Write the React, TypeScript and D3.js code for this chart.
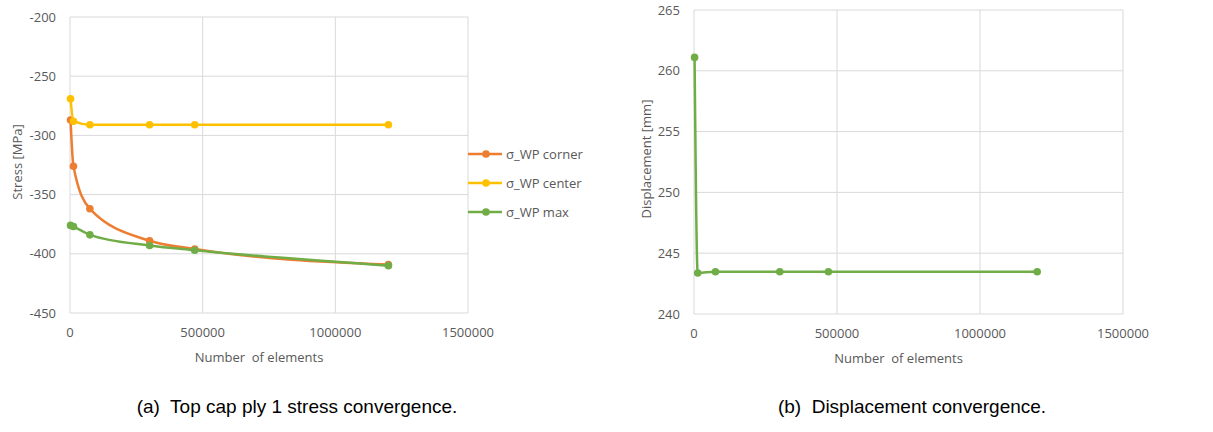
import React, { useEffect, useRef } from 'react';
import * as d3 from 'd3';

// mesh sizes shared by both studies
const elements = [2000, 13000, 75000, 300000, 470000, 1200000];

const wpCorner = [-287, -326, -362, -389, -396, -409];
const wpCenter = [-269, -288, -291, -291, -291, -291];
const wpMax = [-376, -377, -384, -393, -397, -410];
const displacement = [261.1, 243.37, 243.48, 243.48, 243.48, 243.48];

const xTicks = [0, 500000, 1000000, 1500000];
const stressTicks = [-450, -400, -350, -300, -250, -200];
const dispTicks = [240, 245, 250, 255, 260, 265];

const seriesNames = ['σ_WP corner', 'σ_WP center', 'σ_WP max'];
const captions = ['(a)  Top cap ply 1 stress convergence.', '(b)  Displacement convergence.'];

const colors = ['#ED7D31', '#FFC000', '#70AD47'];
const font = "'Open Sans', sans-serif";
const textColor = '#595959';
const gridColor = '#D9D9D9';

type Series = { name: string; values: number[]; color: string };

function drawPanel(svg, cfg) {
  const { left, right, top, bottom, yDomain, yTicks, yTitle, titleX, series, caption, captionX } = cfg;

  const x = d3.scaleLinear().domain([0, 1500000]).range([left, right]);
  const y = d3.scaleLinear().domain(yDomain).range([bottom, top]);

  const g = svg.append('g');

  // gridlines
  g.append('g')
    .selectAll('line')
    .data(yTicks)
    .join('line')
      .attr('x1', left)
      .attr('x2', right)
      .attr('y1', d => y(d))
      .attr('y2', d => y(d))
      .attr('stroke', gridColor)
      .attr('stroke-width', 1);

  g.append('g')
    .selectAll('line')
    .data(xTicks)
    .join('line')
      .attr('x1', d => x(d))
      .attr('x2', d => x(d))
      .attr('y1', top)
      .attr('y2', bottom)
      .attr('stroke', gridColor)
      .attr('stroke-width', 1);

  // tick labels
  g.append('g')
    .selectAll('text')
    .data(yTicks)
    .join('text')
      .attr('x', left - 14)
      .attr('y', d => y(d))
      .attr('dy', '0.35em')
      .attr('text-anchor', 'end')
      .attr('font-family', font)
      .attr('font-size', 13)
      .attr('fill', textColor)
      .text(d => String(d));

  g.append('g')
    .selectAll('text')
    .data(xTicks)
    .join('text')
      .attr('x', d => x(d))
      .attr('y', bottom + 19)
      .attr('dy', '0.35em')
      .attr('text-anchor', 'middle')
      .attr('font-family', font)
      .attr('font-size', 13)
      .attr('fill', textColor)
      .text(d => String(d));

  // axis titles
  g.append('text')
    .attr('x', (left + right) / 2 - 10)
    .attr('y', bottom + 44)
    .attr('dy', '0.35em')
    .attr('text-anchor', 'middle')
    .attr('font-family', font)
    .attr('font-size', 13)
    .attr('fill', textColor)
    .style('white-space', 'pre')
    .text('Number  of elements');

  g.append('text')
    .attr('transform', `translate(${titleX},${(top + bottom) / 2 - 3}) rotate(-90)`)
    .attr('dy', '0.35em')
    .attr('text-anchor', 'middle')
    .attr('font-family', font)
    .attr('font-size', 13)
    .attr('fill', textColor)
    .text(yTitle);

  // series
  const line = d3.line<number>()
    .x((_, i) => x(elements[i]))
    .y(d => y(d))
    .curve(d3.curveMonotoneX);

  series.forEach((s: Series) => {
    g.append('path')
      .datum(s.values)
      .attr('d', line)
      .attr('fill', 'none')
      .attr('stroke', s.color)
      .attr('stroke-width', 2.5);

    g.append('g')
      .selectAll('circle')
      .data(s.values)
      .join('circle')
        .attr('cx', (_, i) => x(elements[i]))
        .attr('cy', d => y(d))
        .attr('r', 3.8)
        .attr('fill', s.color);
  });

  svg.append('text')
    .attr('x', captionX)
    .attr('y', 406)
    .attr('dy', '0.35em')
    .attr('text-anchor', 'middle')
    .attr('font-family', "'Liberation Sans', Arial, sans-serif")
    .attr('font-size', 19)
    .attr('fill', '#000')
    .style('white-space', 'pre')
    .text(caption);

  return { x, y };
}

const App = () => {
  const svgRef = useRef(null);

  useEffect(() => {
    const svg = d3.select(svgRef.current);
    svg.selectAll('*').remove();

    const stressSeries = [wpCorner, wpCenter, wpMax].map((values, i) => ({
      name: seriesNames[i],
      values,
      color: colors[i],
    }));

    drawPanel(svg, {
      left: 70, right: 468, top: 17, bottom: 313,
      yDomain: [-450, -200], yTicks: stressTicks,
      yTitle: 'Stress [MPa]', titleX: 17,
      series: stressSeries,
      caption: captions[0], captionX: 297,
    });

    // legend
    const legend = svg.append('g')
      .selectAll('g')
      .data(stressSeries)
      .join('g')
        .attr('transform', (_, i) => `translate(468,${154 + i * 29})`);
    legend.append('line')
      .attr('x1', 0).attr('x2', 34)
      .attr('stroke', d => d.color)
      .attr('stroke-width', 2.5);
    legend.append('circle')
      .attr('cx', 18).attr('r', 3.8)
      .attr('fill', d => d.color);
    legend.append('text')
      .attr('x', 38)
      .attr('dy', '0.35em')
      .attr('font-family', font)
      .attr('font-size', 13)
      .attr('fill', textColor)
      .text(d => d.name);

    drawPanel(svg, {
      left: 694, right: 1123, top: 10, bottom: 314,
      yDomain: [240, 265], yTicks: dispTicks,
      yTitle: 'Displacement [mm]', titleX: 646,
      series: [{ name: 'Displacement', values: displacement, color: colors[2] }],
      caption: captions[1], captionX: 912,
    });
  }, []);

  return (
    <svg
      ref={svgRef}
      width={1213}
      height={432}
      style={{ position: 'absolute', left: 0, top: 0, background: '#fff' }}
    />
  );
};

export default App;
